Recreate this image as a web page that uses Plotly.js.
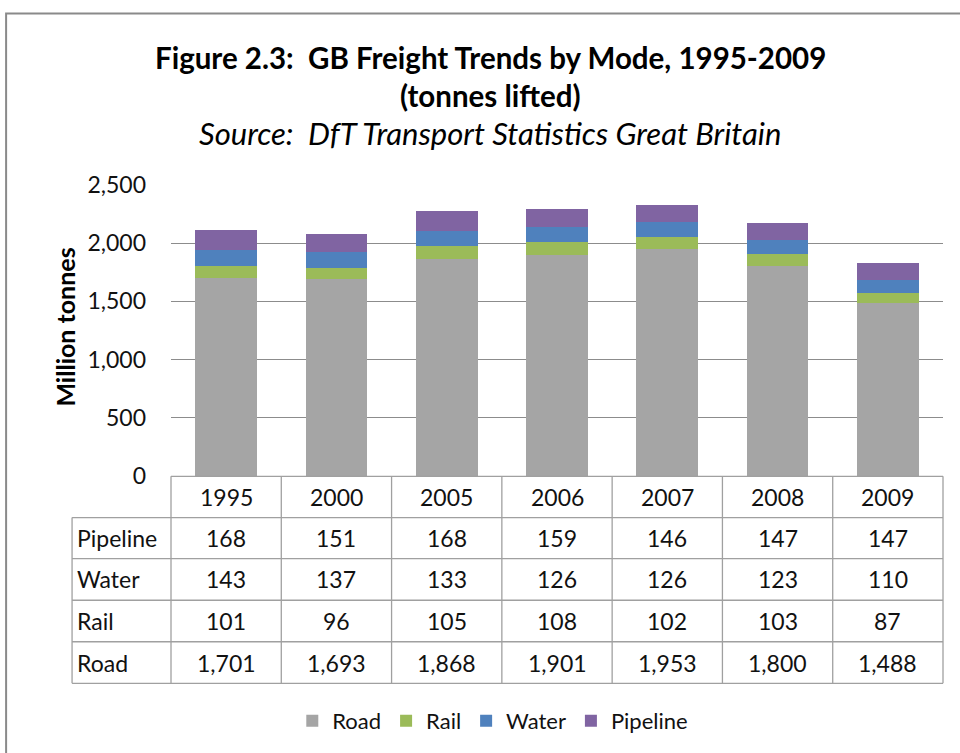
<!DOCTYPE html>
<html>
<head>
<meta charset="utf-8">
<script src="https://cdn.plot.ly/plotly-3.0.1.min.js"></script>
<style>html,body{margin:0;padding:0;background:#fff;}#chart{width:960px;height:753px;}</style>
</head>
<body>
<div id="chart"></div>
<script>
// ---- data ----
var years = ["1995", "2000", "2005", "2006", "2007", "2008", "2009"];
var road = [1701, 1693, 1868, 1901, 1953, 1800, 1488];
var rail = [101, 96, 105, 108, 102, 103, 87];
var water = [143, 137, 133, 126, 126, 123, 110];
var pipeline = [168, 151, 168, 159, 146, 147, 147];
var seriesNames = ["Road", "Rail", "Water", "Pipeline"];
var tableRows = ["Pipeline", "Water", "Rail", "Road"];

// ---- styling ----
var FONT = "Lato, 'Open Sans', sans-serif";
var colors = {Road: "#A5A5A5", Rail: "#9BBB59", Water: "#4F81BD", Pipeline: "#8064A2"};
var values = {Road: road, Rail: rail, Water: water, Pipeline: pipeline};
var W = 960, H = 753;
var L = 171, R = 943.5, T = 185, B = 477;
var pw = R - L, ph = B - T;
function px(x) { return (x - L) / pw; }
function py(y) { return (B - y) / ph; }
var lineCol = "#A0A0A0";

var traces = seriesNames.map(function (n) {
  return {
    type: "bar", name: n, x: years.map(function (_, i) { return i; }), y: values[n],
    marker: {color: colors[n]}, hoverinfo: "y+name"
  };
});

var shapes = [];
var annotations = [];
// outer border
shapes.push({type: "rect", xref: "paper", yref: "paper", x0: px(6), x1: px(1000), y0: py(800), y1: py(13),
  line: {color: "#8A8A8A", width: 2}, fillcolor: "rgba(0,0,0,0)", layer: "below"});

// table geometry
var rowY = [477.3, 518.7, 560, 601.7, 643.3, 685];
var colX = [];
for (var i = 0; i <= years.length; i++) colX.push(L + i * pw / years.length);
var labelX0 = 72;
shapes.push({type: "line", xref: "paper", yref: "paper", x0: 0, x1: 1, y0: py(rowY[0]), y1: py(rowY[0]), line: {color: lineCol, width: 1.3}});
for (var r = 1; r < rowY.length; r++) {
  shapes.push({type: "line", xref: "paper", yref: "paper", x0: px(labelX0), x1: 1, y0: py(rowY[r]), y1: py(rowY[r]), line: {color: lineCol, width: 1.3}});
}
for (var c = 0; c < colX.length; c++) {
  shapes.push({type: "line", xref: "paper", yref: "paper", x0: px(colX[c]), x1: px(colX[c]), y0: py(rowY[0]), y1: py(rowY[5]), line: {color: lineCol, width: 1.3}});
}
shapes.push({type: "line", xref: "paper", yref: "paper", x0: px(labelX0), x1: px(labelX0), y0: py(rowY[1]), y1: py(rowY[5]), line: {color: lineCol, width: 1.3}});

var cellFont = {family: FONT, size: 23, color: "#111"};
years.forEach(function (yr, i) {
  annotations.push({xref: "x", yref: "paper", x: i, y: py((rowY[0] + rowY[1]) / 2), text: yr, showarrow: false,
    font: cellFont, xanchor: "center", yanchor: "middle"});
});
tableRows.forEach(function (n, r) {
  var yc = py((rowY[r + 1] + rowY[r + 2]) / 2);
  annotations.push({xref: "paper", yref: "paper", x: px(75), y: yc, text: n, showarrow: false,
    font: cellFont, xanchor: "left", yanchor: "middle"});
  values[n].forEach(function (v, i) {
    annotations.push({xref: "x", yref: "paper", x: i, y: yc, text: v.toLocaleString("en-US"), showarrow: false,
      font: cellFont, xanchor: "center", yanchor: "middle"});
  });
});

// titles
annotations.push({xref: "paper", yref: "paper", x: px(491), y: py(57), text: "<b>Figure 2.3:  GB Freight Trends by Mode, 1995-2009</b>",
  showarrow: false, font: {family: FONT, size: 29.5, color: "#000"}, xanchor: "center", yanchor: "middle"});
annotations.push({xref: "paper", yref: "paper", x: px(491), y: py(95), text: "<b>(tonnes lifted)</b>",
  showarrow: false, font: {family: FONT, size: 29.5, color: "#000"}, xanchor: "center", yanchor: "middle"});
annotations.push({xref: "paper", yref: "paper", x: px(490), y: py(133), text: "<i>Source:  DfT Transport Statistics Great Britain</i>",
  showarrow: false, font: {family: FONT, size: 31, color: "#000"}, xanchor: "center", yanchor: "middle"});
annotations.push({xref: "paper", yref: "paper", x: px(64), y: py(328), text: "<b>Million tonnes</b>", textangle: -90,
  showarrow: false, font: {family: FONT, size: 25, color: "#000"}, xanchor: "center", yanchor: "middle"});

var layout = {
  width: W, height: H,
  margin: {l: L, r: W - R, t: T, b: H - B, pad: 0},
  paper_bgcolor: "#fff", plot_bgcolor: "#fff",
  barmode: "stack", bargap: 0.44,
  showlegend: true,
  legend: {orientation: "h", x: px(493), xanchor: "center", y: py(721), yanchor: "middle",
    font: {family: FONT, size: 22, color: "#111"}, traceorder: "normal", itemwidth: 30, tracegroupgap: 0},
  xaxis: {range: [-0.5, years.length - 0.5], showticklabels: false, ticks: "", showgrid: false, zeroline: false,
    showline: false, fixedrange: true},
  yaxis: {range: [0, 2500], dtick: 500, tickformat: ",", showgrid: true, gridcolor: "#8C8C8C", gridwidth: 1.3,
    zeroline: false, showline: false, ticks: "", ticklabelstandoff: 24,
    tickfont: {family: FONT, size: 23, color: "#111"}, fixedrange: true},
  shapes: shapes,
  annotations: annotations
};

Plotly.newPlot("chart", traces, layout, {displayModeBar: false, staticPlot: true});
</script>
</body>
</html>
